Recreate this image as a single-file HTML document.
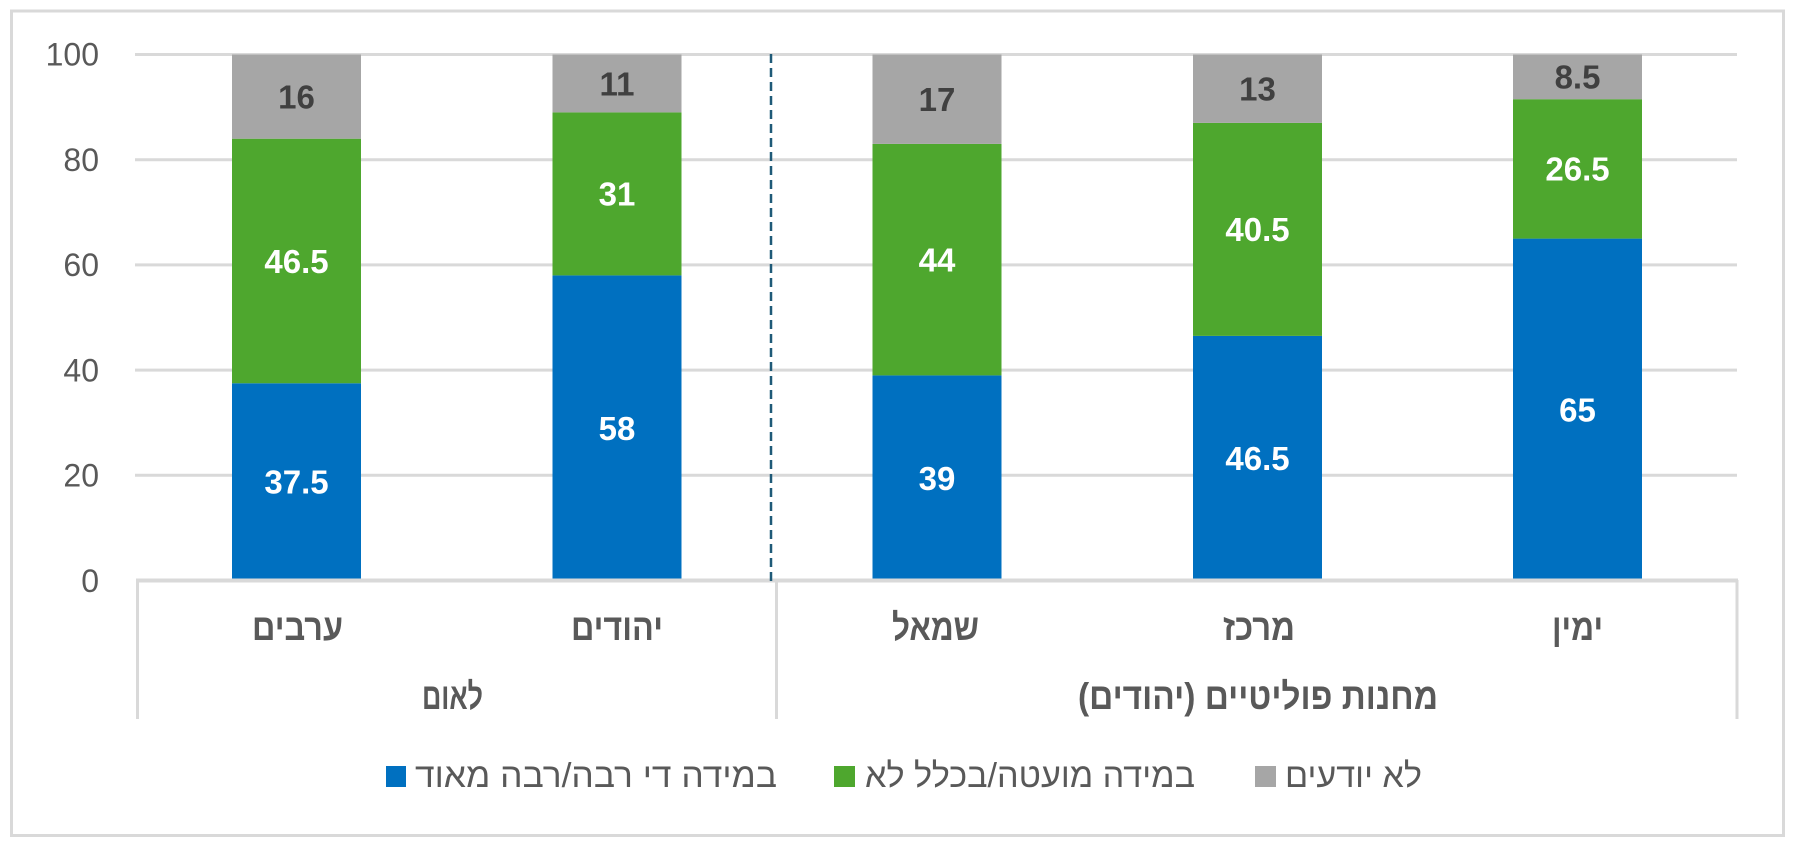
<!DOCTYPE html>
<html>
<head>
<meta charset="utf-8">
<style>
  html, body { margin: 0; padding: 0; background: #ffffff; }
  svg { display: block; }
  .tick { font-family: "Liberation Sans", "DejaVu Sans", sans-serif; font-size: 32px; fill: #595959; }
  .val { font-family: "Liberation Sans", "DejaVu Sans", sans-serif; font-size: 33px; font-weight: bold; }
  .cat { font-family: "Liberation Sans", "DejaVu Sans", sans-serif; font-size: 37px; font-weight: bold; fill: #595959; }
  .leg { font-family: "Liberation Sans", "DejaVu Sans", sans-serif; font-size: 34px; fill: #595959; }
</style>
</head>
<body>
<svg width="1793" height="843" viewBox="0 0 1793 843" xmlns="http://www.w3.org/2000/svg">
  <rect x="0" y="0" width="1793" height="843" fill="#ffffff"/>
  <!-- outer border -->
  <rect x="11.5" y="11" width="1772" height="824.5" fill="none" stroke="#d9d9d9" stroke-width="3"/>

  <!-- gridlines -->
  <g stroke="#d9d9d9" stroke-width="3">
    <line x1="135" y1="54.5" x2="1737" y2="54.5"/>
    <line x1="135" y1="159.7" x2="1737" y2="159.7"/>
    <line x1="135" y1="264.9" x2="1737" y2="264.9"/>
    <line x1="135" y1="370.1" x2="1737" y2="370.1"/>
    <line x1="135" y1="475.3" x2="1737" y2="475.3"/>
  </g>

  <!-- tick labels -->
  <g class="tick" text-anchor="end">
    <text x="99" y="65.5">100</text>
    <text x="99" y="171">80</text>
    <text x="99" y="276">60</text>
    <text x="99" y="381.5">40</text>
    <text x="99" y="486.5">20</text>
    <text x="99" y="592">0</text>
  </g>

  <!-- bars -->
  <rect x="232" y="383.25" width="129" height="197.25" fill="#0070c0"/>
  <rect x="232" y="138.7" width="129" height="244.55" fill="#4ea72e"/>
  <rect x="232" y="54.5" width="129" height="84.2" fill="#a6a6a6"/>

  <rect x="552.5" y="275.4" width="129" height="305.1" fill="#0070c0"/>
  <rect x="552.5" y="112.4" width="129" height="163" fill="#4ea72e"/>
  <rect x="552.5" y="54.5" width="129" height="57.9" fill="#a6a6a6"/>

  <rect x="872.5" y="375.4" width="129" height="205.1" fill="#0070c0"/>
  <rect x="872.5" y="143.9" width="129" height="231.5" fill="#4ea72e"/>
  <rect x="872.5" y="54.5" width="129" height="89.4" fill="#a6a6a6"/>

  <rect x="1193" y="335.9" width="129" height="244.6" fill="#0070c0"/>
  <rect x="1193" y="122.9" width="129" height="213" fill="#4ea72e"/>
  <rect x="1193" y="54.5" width="129" height="68.4" fill="#a6a6a6"/>

  <rect x="1513" y="238.6" width="129" height="341.9" fill="#0070c0"/>
  <rect x="1513" y="99.2" width="129" height="139.4" fill="#4ea72e"/>
  <rect x="1513" y="54.5" width="129" height="44.7" fill="#a6a6a6"/>

  <!-- axis line & category box -->
  <line x1="136" y1="580.5" x2="1738" y2="580.5" stroke="#d9d9d9" stroke-width="4"/>
  <g stroke="#d9d9d9" stroke-width="3">
    <line x1="137.5" y1="580" x2="137.5" y2="719"/>
    <line x1="776.5" y1="580" x2="776.5" y2="719"/>
    <line x1="1737" y1="580" x2="1737" y2="719"/>
  </g>

  <!-- dashed separator -->
  <line x1="771" y1="54" x2="771" y2="582" stroke="#1f5a78" stroke-width="2.5" stroke-dasharray="9,5"/>

  <!-- value labels -->
  <g class="val" text-anchor="middle">
    <text x="296.5" y="493.7" fill="#ffffff">37.5</text>
    <text x="296.5" y="272.8" fill="#ffffff">46.5</text>
    <text x="296.5" y="108.4" fill="#404040">16</text>

    <text x="617" y="439.8" fill="#ffffff">58</text>
    <text x="617" y="205.7" fill="#ffffff">31</text>
    <text x="617" y="95.3" fill="#404040">11</text>

    <text x="937" y="489.8" fill="#ffffff">39</text>
    <text x="937" y="271.5" fill="#ffffff">44</text>
    <text x="937" y="111" fill="#404040">17</text>

    <text x="1257.5" y="470" fill="#ffffff">46.5</text>
    <text x="1257.5" y="241.2" fill="#ffffff">40.5</text>
    <text x="1257.5" y="100.5" fill="#404040">13</text>

    <text x="1577.5" y="421.4" fill="#ffffff">65</text>
    <text x="1577.5" y="180.7" fill="#ffffff">26.5</text>
    <text x="1577.5" y="88.7" fill="#404040">8.5</text>
  </g>

  <!-- category labels -->
  <g class="cat" text-anchor="middle" direction="rtl">
    <text x="297.5" y="640" textLength="91" lengthAdjust="spacingAndGlyphs">ערבים</text>
    <text x="617" y="640" textLength="92" lengthAdjust="spacingAndGlyphs">יהודים</text>
    <text x="935.5" y="640" textLength="87" lengthAdjust="spacingAndGlyphs">שמאל</text>
    <text x="1259" y="640" textLength="72" lengthAdjust="spacingAndGlyphs">מרכז</text>
    <text x="1577.5" y="640" textLength="51" lengthAdjust="spacingAndGlyphs">ימין</text>

    <text x="452.5" y="709" textLength="61" lengthAdjust="spacingAndGlyphs">לאום</text>
    <text x="1258" y="709" textLength="360" lengthAdjust="spacingAndGlyphs">מחנות פוליטיים (יהודים)</text>
  </g>

  <!-- legend -->
  <rect x="386" y="766" width="20" height="21" fill="#0070c0"/>
  <rect x="834" y="766" width="21" height="21" fill="#4ea72e"/>
  <rect x="1255" y="766" width="21" height="21" fill="#a6a6a6"/>
  <g class="leg" text-anchor="middle" direction="rtl">
    <text x="596" y="787" textLength="362" lengthAdjust="spacingAndGlyphs">במידה די רבה/רבה מאוד</text>
    <text x="1030" y="787" textLength="330" lengthAdjust="spacingAndGlyphs">במידה מועטה/בכלל לא</text>
    <text x="1353.5" y="787" textLength="137" lengthAdjust="spacingAndGlyphs">לא יודעים</text>
  </g>
</svg>
</body>
</html>
